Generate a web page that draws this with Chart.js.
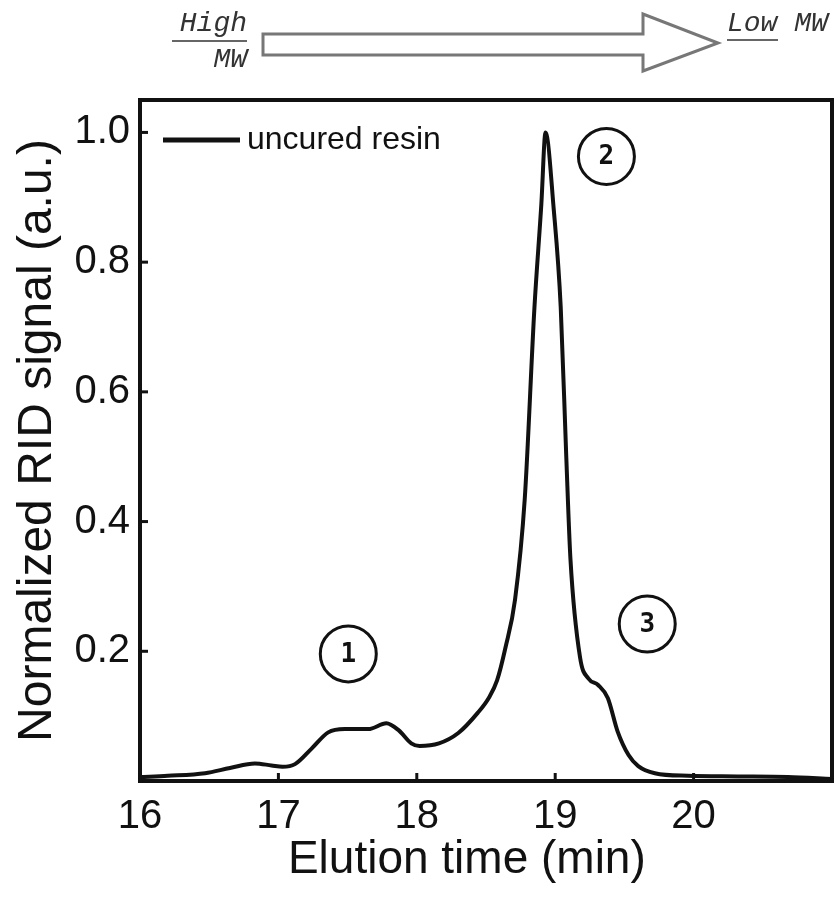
<!DOCTYPE html>
<html>
<head>
<meta charset="utf-8">
<script src="https://cdn.jsdelivr.net/npm/chart.js@4"></script>
<style>
html, body { margin: 0; padding: 0; background: #fff; }
#wrap { width: 836px; height: 907px; }
</style>
</head>
<body>
<div id="wrap"><canvas id="chart" width="836" height="907"></canvas></div>
<script>
// GPC trace of the uncured resin
var elutionTime = [16.00, 16.20, 16.47, 16.65, 16.83, 16.95, 17.03, 17.12, 17.24, 17.36,
    17.48, 17.65, 17.78, 17.87, 17.96, 18.02, 18.16, 18.30, 18.44, 18.52,
    18.58, 18.64, 18.71, 18.78, 18.85, 18.90, 18.93, 18.99, 19.04, 19.08,
    19.11, 19.18, 19.24, 19.31, 19.38, 19.45, 19.53, 19.60, 19.72, 19.96,
    20.32, 20.68, 21.00];
var ridSignal = [0.006, 0.008, 0.012, 0.020, 0.027, 0.024, 0.022, 0.026, 0.050, 0.075,
    0.080, 0.080, 0.089, 0.078, 0.058, 0.054, 0.058, 0.074, 0.105, 0.128,
    0.155, 0.205, 0.280, 0.435, 0.730, 0.890, 1.000, 0.880, 0.730, 0.500,
    0.343, 0.190, 0.158, 0.148, 0.128, 0.077, 0.040, 0.023, 0.012, 0.008,
    0.007, 0.006, 0.003];
var seriesName = 'uncured resin';

var xTicks = [16, 17, 18, 19, 20];
var yTicks = [0.2, 0.4, 0.6, 0.8, 1.0];

// circled peak numbers
var peakLabels = ['1', '2', '3'];
var peakX = [17.505, 19.37, 19.665];
var peakY = [0.196, 0.963, 0.242];

var sans = '"Liberation Sans", Arial, Helvetica, sans-serif';
var mono = '"Liberation Mono", "Courier New", monospace';
var ink = '#111';

var framePlugin = {
    id: 'frame',
    afterDatasetsDraw: function(chart) {
        var c = chart.ctx, a = chart.chartArea;
        var xs = chart.scales.x, ys = chart.scales.y;
        c.save();
        c.strokeStyle = ink;
        c.lineWidth = 4;
        c.strokeRect(a.left, a.top, a.right - a.left, a.bottom - a.top);

        // inward ticks
        c.lineWidth = 3;
        xTicks.forEach(function(v) {
            var px = xs.getPixelForValue(v);
            c.beginPath(); c.moveTo(px, a.bottom); c.lineTo(px, a.bottom - 8); c.stroke();
        });
        yTicks.forEach(function(v) {
            var py = ys.getPixelForValue(v);
            c.beginPath(); c.moveTo(a.left, py); c.lineTo(a.left + 8, py); c.stroke();
        });

        // legend inside the plot
        var ds = chart.data.datasets[0];
        c.lineWidth = 5;
        c.beginPath(); c.moveTo(a.left + 23, a.top + 40); c.lineTo(a.left + 100, a.top + 40); c.stroke();
        c.fillStyle = ink;
        c.font = '32px ' + sans;
        c.textBaseline = 'middle';
        c.textAlign = 'left';
        c.fillText(ds.label, a.left + 107, a.top + 40);

        // circled numbers
        c.lineWidth = 3;
        c.font = 'bold 26px "DejaVu Sans Mono", monospace';
        c.textAlign = 'center';
        peakLabels.forEach(function(t, i) {
            var px = xs.getPixelForValue(peakX[i]);
            var py = ys.getPixelForValue(peakY[i]);
            c.fillStyle = '#fff';
            c.beginPath(); c.arc(px, py, 28, 0, Math.PI * 2); c.fill(); c.stroke();
            c.fillStyle = ink;
            c.fillText(t, px, py + 1);
        });

        // molecular weight arrow above the plot
        c.strokeStyle = '#777';
        c.lineWidth = 3;
        c.beginPath();
        c.moveTo(263, 34); c.lineTo(643, 34); c.lineTo(643, 14); c.lineTo(718, 43);
        c.lineTo(643, 71); c.lineTo(643, 55); c.lineTo(263, 55); c.closePath();
        c.stroke();

        c.fillStyle = '#333';
        c.strokeStyle = '#333';
        c.lineWidth = 1.5;
        c.font = 'italic 28px ' + mono;
        c.textBaseline = 'alphabetic';
        c.textAlign = 'right';
        c.fillText('High', 247, 31);
        c.fillText('MW', 247, 67);
        c.beginPath(); c.moveTo(172, 41); c.lineTo(247, 41); c.stroke();
        c.textAlign = 'left';
        c.fillText('Low MW', 727, 31);
        c.beginPath(); c.moveTo(727, 40); c.lineTo(778, 40); c.stroke();
        c.restore();
    }
};

var points = elutionTime.map(function(t, i) { return { x: t, y: ridSignal[i] }; });

new Chart(document.getElementById('chart'), {
    type: 'line',
    data: {
        datasets: [{
            label: seriesName,
            data: points,
            borderColor: ink,
            borderWidth: 4,
            pointRadius: 0,
            fill: false,
            cubicInterpolationMode: 'monotone'
        }]
    },
    options: {
        responsive: false,
        animation: false,
        layout: { padding: { top: 100, right: 4, left: 0, bottom: 0 } },
        plugins: { legend: { display: false }, tooltip: { enabled: false } },
        scales: {
            x: {
                type: 'linear', min: 16, max: 21,
                afterBuildTicks: function(s) { s.ticks = xTicks.map(function(v) { return { value: v }; }); },
                afterFit: function(s) { s.height = 126; },
                grid: { display: false, drawTicks: false },
                border: { display: false },
                ticks: { color: ink, padding: 12, maxRotation: 0, font: { family: sans, size: 40 } },
                title: { display: true, text: 'Elution time (min)   ', color: ink,
                    font: { family: sans, size: 46 }, padding: { top: 0, bottom: 19 } }
            },
            y: {
                min: 0, max: 1.05,
                afterBuildTicks: function(s) { s.ticks = yTicks.map(function(v) { return { value: v }; }); },
                afterFit: function(s) { s.width = 140; },
                grid: { display: false, drawTicks: false },
                border: { display: false },
                ticks: { color: ink, padding: 10, font: { family: sans, size: 40 },
                    callback: function(v) { return v.toFixed(1); } },
                title: { display: true, text: 'Normalized RID signal (a.u.)', color: ink,
                    font: { family: sans, size: 48 }, padding: { top: 9, bottom: 0 } }
            }
        }
    },
    plugins: [framePlugin]
});
</script>
</body>
</html>
